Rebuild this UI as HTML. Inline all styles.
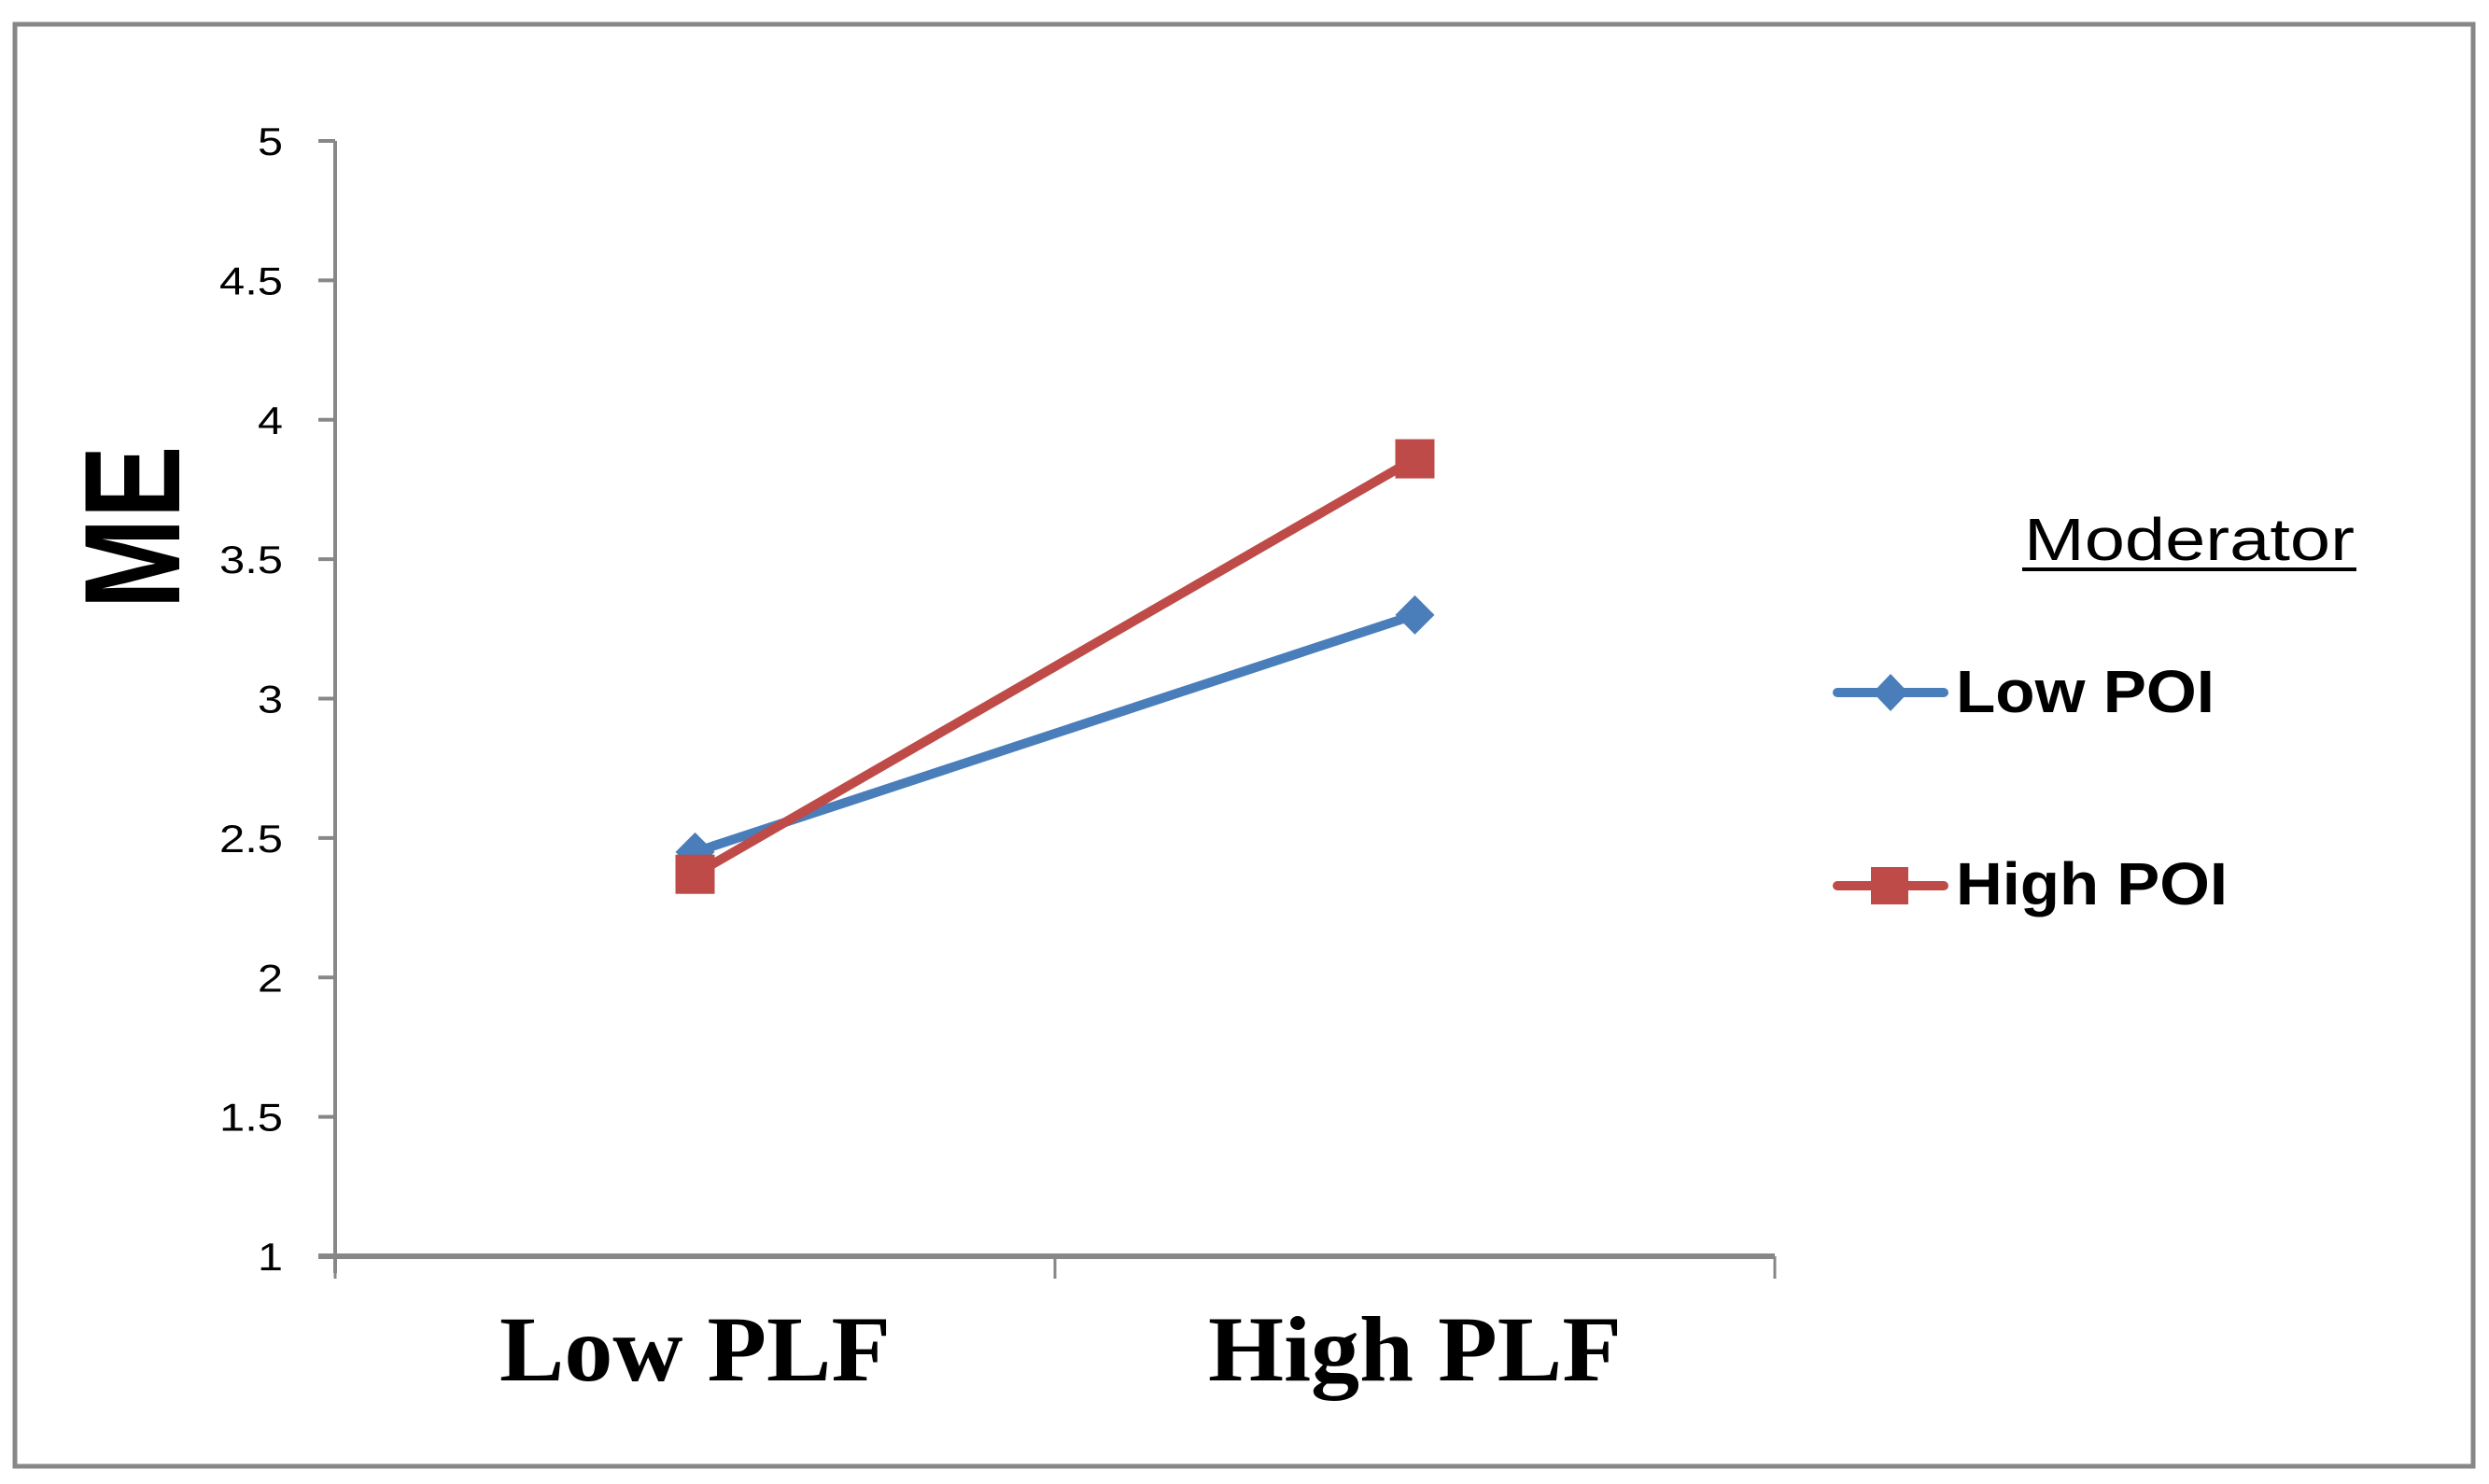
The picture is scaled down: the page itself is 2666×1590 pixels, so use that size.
<!DOCTYPE html>
<html><head><meta charset="utf-8"><style>
html,body{margin:0;padding:0;background:#fff;}
svg{display:block;}
</style></head><body>
<svg id="chart" width="2666" height="1590" viewBox="0 0 2666 1590" xmlns="http://www.w3.org/2000/svg">
<rect x="16" y="26" width="2633" height="1545" fill="#fff" stroke="#878787" stroke-width="5"/>
<g id="axes"></g>
<g id="series"></g>
<text transform="translate(192,565) rotate(-90)" text-anchor="middle" font-family="Liberation Sans, sans-serif" font-weight="bold" font-size="146" textLength="175" lengthAdjust="spacingAndGlyphs">ME</text>
<g>
<text x="2168" y="600" font-family="Liberation Sans, sans-serif" font-size="64" textLength="354" lengthAdjust="spacingAndGlyphs">Moderator</text>
<line x1="2166" y1="610" x2="2524" y2="610" stroke="#000" stroke-width="4"/>
<g>
<line x1="1968" y1="742" x2="2082" y2="742" stroke="#4a7ebb" stroke-width="10" stroke-linecap="round"/>
<polygon points="2025,722 2044,742 2025,762 2006,742" fill="#4a7ebb"/>
<text x="2095" y="763" font-family="Liberation Sans, sans-serif" font-weight="bold" font-size="64" textLength="277" lengthAdjust="spacingAndGlyphs">Low POI</text>
</g>
<g>
<line x1="1968" y1="949" x2="2082" y2="949" stroke="#be4b48" stroke-width="10" stroke-linecap="round"/>
<rect x="2004" y="929" width="40" height="40" fill="#be4b48"/>
<text x="2095" y="969" font-family="Liberation Sans, sans-serif" font-weight="bold" font-size="64" textLength="291" lengthAdjust="spacingAndGlyphs">High POI</text>
</g>
</g>
</svg>
<script>
const categories = ["Low PLF", "High PLF"];
const lowPOI = [2.45, 3.30];
const highPOI = [2.37, 3.86];
const yTicks = [1, 1.5, 2, 2.5, 3, 3.5, 4, 4.5, 5];
const yTickLabels = ["1", "1.5", "2", "2.5", "3", "3.5", "4", "4.5", "5"];

const NS = "http://www.w3.org/2000/svg";
const X0 = 359, X1 = 1901, Y0 = 1346, Y1 = 151;
function yScale(v){ return Y0 - (v - 1) / (5 - 1) * (Y0 - Y1); }
function xScale(i){ return X0 + (i + 0.5) * (X1 - X0) / categories.length; }
function mk(tag, attrs, parent){ const e = document.createElementNS(NS, tag); for (const k in attrs) e.setAttribute(k, attrs[k]); parent.appendChild(e); return e; }

const axes = document.getElementById("axes");
const yAxis = mk("line", {x1:X0, y1:Y1, x2:X0, y2:Y0+18, stroke:"#878787", "stroke-width":4}, axes);


const xAxis = mk("line", {x1:X0-18, y1:Y0, x2:X1, y2:Y0, stroke:"#878787", "stroke-width":6}, axes);



yTicks.forEach((v, i) => {
  const y = yScale(v);
  const t = mk("line", {x1:X0-18, y1:y, x2:X0, y2:y, stroke:"#878787", "stroke-width":4}, axes);
  
  
  const lab = yTickLabels[i];
  let w = 0; for (const c of lab) w += (c === "." ? 14 : 27);
  const tx = mk("text", {x:303, y:y+15, "text-anchor":"end", "font-family":"Liberation Sans, sans-serif", "font-size":42, textLength:w, lengthAdjust:"spacingAndGlyphs"}, axes);
  tx.textContent = lab;
  
  
});

for (let i = 0; i <= categories.length; i++){
  const x = X0 + i * (X1 - X0) / categories.length;
  const t = mk("line", {x1:x, y1:Y0, x2:x, y2:Y0+24, stroke:"#878787", "stroke-width":3}, axes);
  
  
}
const catWidths = [419, 443];
categories.forEach((c, i) => {
  const tx = mk("text", {x:xScale(i), y:1479, "text-anchor":"middle", "font-family":"Liberation Serif, serif", "font-weight":"bold", "font-size":100, textLength:catWidths[i], lengthAdjust:"spacingAndGlyphs"}, axes);
  tx.textContent = c;
  
  
});

const series = document.getElementById("series");
function drawSeries(vals, color, marker, name){
  const g = mk("g", {}, series);
  
  
  const pts = vals.map((v, i) => xScale(i) + "," + yScale(v)).join(" ");
  const pl = mk("polyline", {points:pts, fill:"none", stroke:color, "stroke-width":10, "stroke-linejoin":"round"}, g);
  
  
  vals.forEach((v, i) => {
    const x = xScale(i), y = yScale(v);
    let m;
    if (marker === "diamond") m = mk("polygon", {points:`${x},${y-21} ${x+21},${y} ${x},${y+21} ${x-21},${y}`, fill:color}, g);
    else m = mk("rect", {x:x-21, y:y-21, width:42, height:42, fill:color}, g);
    
    
  });
}
drawSeries(lowPOI, "#4a7ebb", "diamond", "series-low-poi");
drawSeries(highPOI, "#be4b48", "square", "series-high-poi");
</script>
</body></html>
